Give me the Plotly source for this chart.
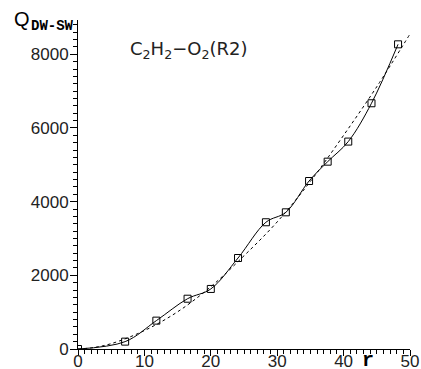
import plotly.graph_objects as go

r_pts = [0, 7.1, 11.8, 16.5, 20.0, 24.1, 28.3, 31.3, 34.8, 37.6, 40.7, 44.2, 48.2]
q_pts = [0, 200, 770, 1365, 1630, 2470, 3440, 3710, 4560, 5085, 5630, 6670, 8270]

r_fit = [0, 2, 5, 10, 15, 20, 25, 30, 35, 40, 45, 50]
q_fit = [0, 30, 145, 500, 1010, 1690, 2530, 3450, 4550, 5800, 7120, 8550]

x_ticks = [0, 10, 20, 30, 40, 50]
y_ticks = [0, 2000, 4000, 6000, 8000]

fig = go.Figure()
fig.add_trace(go.Scatter(x=r_fit, y=q_fit, mode="lines",
                         line=dict(color="black", width=1, dash="3px,3px", shape="spline"),
                         hoverinfo="skip"))
fig.add_trace(go.Scatter(x=r_pts, y=q_pts, mode="lines+markers",
                         line=dict(color="black", width=1, shape="spline", smoothing=1.0),
                         marker=dict(symbol="square-open", size=7, color="black",
                                     line=dict(width=1, color="black"))))

tickfont = dict(family="Liberation Sans, Arial, sans-serif", size=17, color="#222")
fig.update_layout(
    width=421, height=369,
    margin=dict(l=78, r=11, t=20, b=20),
    paper_bgcolor="white", plot_bgcolor="white",
    showlegend=False,
    xaxis=dict(range=[0, 50], tickvals=x_ticks, ticks="outside", ticklen=6, tickwidth=1,
               tickcolor="black", showline=True, linecolor="black", linewidth=1,
               showgrid=False, zeroline=False, tickfont=tickfont, automargin=False,
               ticklabelstandoff=-9,
               minor=dict(dtick=1, ticks="outside", ticklen=4, tickcolor="black", showgrid=False)),
    yaxis=dict(range=[0, 8930], tickvals=y_ticks, ticks="outside", ticklen=7, tickwidth=1,
               tickcolor="black", showline=True, linecolor="black", linewidth=1,
               showgrid=False, zeroline=False, tickfont=tickfont, automargin=False,
               ticklabelstandoff=-2,
               minor=dict(dtick=200, ticks="outside", ticklen=4, tickcolor="black", showgrid=False)),
    annotations=[
        dict(xref="paper", yref="paper", x=-0.2, y=1.003, xanchor="left", yanchor="middle",
             showarrow=False,
             font=dict(family="Liberation Sans, Arial, sans-serif", size=20, color="black"),
             text="Q"),
        dict(xref="paper", yref="paper", x=-0.148, y=0.983, xanchor="left", yanchor="middle",
             showarrow=False,
             font=dict(family="Liberation Mono, Courier New, monospace", size=14, color="black"),
             text="<b>DW-SW</b>"),
        dict(xref="paper", yref="paper", x=0.151, y=0.909, xanchor="left", yanchor="middle",
             showarrow=False,
             font=dict(family="DejaVu Sans, sans-serif", size=18, color="#222"),
             text="C<sub>2</sub>H<sub>2</sub>\u2212O<sub>2</sub>(R2)"),
        dict(xref="paper", yref="paper", x=0.873, y=-0.035, xanchor="center", yanchor="middle",
             showarrow=False,
             font=dict(family="Liberation Mono, Courier New, monospace", size=20, color="black"),
             text="<b>r</b>"),
    ],
)

fig.write_html("out.html")
